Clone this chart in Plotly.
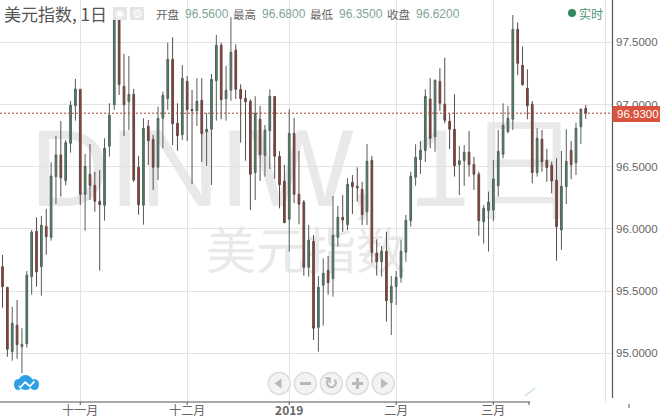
import plotly.graph_objects as go

# Daily candles, Oct 2018 - Mar 2019: high, top of body, bottom of body, low, colour (G up / R down)
candles = """
95.790 95.696 95.535 95.366 R
95.533 95.530 95.032 94.972 R
95.374 95.241 95.013 94.940 G
95.428 95.225 95.069 94.956 R
95.201 95.072 95.053 94.839 G
95.661 95.627 95.077 95.045 G
95.991 95.973 95.616 95.471 G
96.093 95.981 95.656 95.535 R
96.104 96.029 95.696 95.463 G
96.160 96.021 95.937 95.792 R
96.535 96.425 95.932 95.905 G
96.747 96.594 96.420 96.200 G
96.867 96.594 96.411 96.259 R
96.715 96.693 96.387 96.350 G
97.028 96.993 96.688 96.612 G
97.205 97.125 96.990 96.870 G
97.125 97.122 96.278 96.192 R
96.602 96.503 96.278 95.985 G
96.682 96.439 96.350 96.232 R
96.460 96.350 96.222 96.138 R
96.473 96.222 96.194 95.664 R
96.728 96.648 96.190 96.066 G
97.010 96.913 96.664 96.580 G
97.695 97.687 96.998 96.956 G
97.695 97.687 97.159 97.076 R
97.406 97.146 96.998 96.747 R
97.390 97.082 97.022 96.795 G
97.125 97.082 96.393 96.377 R
96.586 96.495 96.194 96.114 R
96.889 96.809 96.190 96.034 G
96.875 96.825 96.709 96.514 R
96.755 96.720 96.495 96.313 R
96.982 96.889 96.495 96.393 G
97.103 97.074 96.889 96.648 G
97.497 97.363 97.047 96.956 G
97.540 97.363 96.846 96.674 R
97.010 96.849 96.749 96.629 R
97.317 97.211 96.757 96.715 G
97.229 97.186 96.958 96.707 R
97.117 96.961 96.950 96.361 R
97.211 97.026 96.950 96.827 G
97.211 97.034 96.765 96.538 R
96.932 96.801 96.781 96.506 G
97.245 97.202 96.801 96.353 G
97.559 97.476 97.191 96.870 G
97.497 97.476 97.039 96.881 R
97.312 97.114 97.047 96.870 G
97.701 97.420 97.114 97.030 G
97.484 97.436 97.122 97.044 R
97.162 97.122 97.047 96.693 R
97.117 97.050 97.022 96.548 R
97.042 97.026 96.439 96.152 R
97.066 96.929 96.452 96.232 G
96.988 96.881 96.596 96.385 R
96.835 96.793 96.592 96.420 G
97.122 97.066 96.789 96.481 G
97.066 97.065 96.583 96.403 R
96.624 96.583 96.355 96.165 R
96.514 96.383 96.050 96.047 R
96.961 96.768 96.077 95.817 G
96.891 96.768 96.278 96.206 R
96.626 96.278 96.198 96.037 R
96.232 96.216 95.691 95.624 R
96.031 95.908 95.691 95.616 G
95.951 95.900 95.201 95.107 R
95.621 95.530 95.209 95.013 G
95.763 95.643 95.546 95.222 G
95.782 95.667 95.567 95.471 R
96.264 95.948 95.600 95.455 G
96.184 96.093 95.932 95.857 G
96.272 96.093 96.071 95.977 R
96.407 96.358 96.034 95.991 G
96.433 96.374 96.339 96.120 R
96.495 96.342 96.329 96.219 R
96.379 96.318 96.114 96.031 R
96.682 96.543 96.138 96.031 G
96.586 96.551 95.809 95.728 R
95.916 95.806 95.736 95.624 R
95.862 95.820 95.736 95.616 G
95.977 95.820 95.423 95.254 R
95.621 95.538 95.407 95.147 G
95.661 95.611 95.535 95.388 G
95.911 95.820 95.608 95.567 G
96.112 96.069 95.812 95.736 G
96.460 96.423 96.066 96.018 G
96.680 96.575 96.415 96.347 G
96.706 96.632 96.556 96.441 G
97.122 97.066 96.629 96.538 G
97.211 97.044 96.728 96.648 R
97.202 97.194 96.741 96.620 G
97.291 97.186 97.010 96.948 R
97.376 97.002 96.873 96.849 R
96.929 96.865 96.801 96.642 R
97.082 96.801 96.508 96.420 R
96.666 96.548 96.516 96.272 G
96.674 96.616 96.548 96.345 G
96.787 96.616 96.516 96.420 R
96.580 96.519 96.439 96.313 R
96.460 96.439 96.066 95.945 R
96.192 96.165 96.058 95.881 G
96.299 96.216 96.146 95.817 G
96.554 96.401 96.152 96.063 G
96.795 96.624 96.347 96.259 G
97.010 96.833 96.600 96.567 G
96.988 96.889 96.781 96.768 G
97.719 97.604 96.881 96.795 G
97.658 97.604 97.331 97.237 R
97.465 97.315 97.159 97.151 R
97.283 97.130 96.990 96.881 R
97.028 97.002 96.452 96.366 R
96.809 96.728 96.452 96.420 G
96.795 96.720 96.540 96.460 R
96.642 96.551 96.492 96.379 R
96.540 96.511 96.385 96.286 R
96.567 96.391 96.018 95.744 R
96.626 96.342 95.991 95.830 G
96.801 96.543 96.339 96.200 G
96.706 96.632 96.516 96.399 R
96.854 96.809 96.532 96.433 G
96.969 96.961 96.821 96.682 G
96.996 96.969 96.930 96.883 R
"""
rows = [r.split() for r in candles.strip().splitlines()]
highs = [float(r[0]) for r in rows]
lows = [float(r[3]) for r in rows]
opens = [float(r[2]) if r[4] == "G" else float(r[1]) for r in rows]
closes = [float(r[1]) if r[4] == "G" else float(r[2]) for r in rows]
days = list(range(len(rows)))

month_pos = [16, 38, 59, 81, 101, 124]
month_labels = ["十一月", "十二月", "<b>2019</b>", "二月", "三月", ""]
price_ticks = [95.0, 95.5, 96.0, 96.5, 97.0, 97.5]
last_price = 96.93
header = [("开盘", "96.5600", 156, 185), ("最高", "96.6800", 233, 262),
          ("最低", "96.3500", 310, 339), ("收盘", "96.6200", 387, 416)]

PW, PH = 612.0, 402.0
CJK = "Noto Sans CJK SC"
LAT = "Liberation Sans, Arial"
def px(x): return x / PW
def py(y): return 1 - y / PH

def pshape(kind, x0, y0, x1, y1, **kw):
    return dict(type=kind, xref="paper", yref="paper", x0=px(x0), x1=px(x1), y0=py(y0), y1=py(y1), **kw)

def ppath(points, **kw):
    d = "M " + " L ".join(f"{px(a):.5f} {py(b):.5f}" for a, b in points) + " Z"
    return dict(type="path", xref="paper", yref="paper", path=d, **kw)

def ptext(x, y, text, size, color, anchor="left", font=LAT):
    return dict(xref="paper", yref="paper", x=px(x), y=py(y), text=text, showarrow=False, xanchor=anchor,
                yanchor="middle", font=dict(size=size, color=color, family=font), borderpad=0, borderwidth=0)

shapes, ann = [], []

# watermark (beneath the candles)
shapes.append(pshape("rect", 4, 110, 606, 205, layer="below", line=dict(width=0), fillcolor="rgba(0,0,0,0)",
    label=dict(text="DINIW, 1日", font=dict(size=110, color="#e9e9e9", family=LAT), textposition="middle center")))
shapes.append(pshape("rect", 150, 226, 462, 284, layer="below", line=dict(width=0), fillcolor="rgba(0,0,0,0)",
    label=dict(text="美元指数", font=dict(size=50, color="#e9e9e9", family=CJK), textposition="middle center")))

# axis lines and stray marks
shapes.append(pshape("line", 0, 402, 530, 402, line=dict(color="#555555", width=1.2)))
shapes.append(pshape("line", 612.5, 0, 612.5, 398, line=dict(color="#555555", width=1.2)))
shapes.append(pshape("line", 529, 402, 529, 405, line=dict(color="#555555", width=1)))
shapes.append(pshape("line", 629, 404, 629, 408, line=dict(color="#555555", width=1)))
shapes.append(pshape("line", 525, 396, 535, 388, line=dict(color="#bcdcf2", width=1.2)))
for m in month_pos[:-1]:
    shapes.append(dict(type="line", xref="x", yref="paper", x0=m, x1=m, y0=py(402), y1=py(405),
                       line=dict(color="#555555", width=1)))

# last price line and tag
shapes.append(dict(type="line", xref="paper", yref="y", x0=0, x1=1, y0=last_price, y1=last_price,
                   line=dict(color="#a8432f", width=1, dash="2px,2px")))
shapes.append(pshape("rect", 612.5, 106, 660, 122, line=dict(width=0), fillcolor="#d9533f"))
ann.append(ptext(637.5, 114, "96.9300", 11.5, "#ffffff", "center"))

# header
ann.append(ptext(4, 14, "美元指数, 1日", 17, "#555555", font=CJK))
for lab, val, xl, xv in header:
    ann.append(ptext(xl, 14.5, lab, 11.5, "#666666", font=CJK))
    ann.append(ptext(xv, 14.5, val, 12, "#7fa596"))
for x0 in (113, 130):
    shapes.append(pshape("rect", x0, 7, x0 + 14, 20, line=dict(width=0), fillcolor="#e4e4e4"))
ann.append(ptext(120, 13.5, "◉", 11, "#ffffff", "center", "DejaVu Sans"))
ann.append(ptext(137, 13.5, "⚙", 12, "#ffffff", "center", "DejaVu Sans"))
shapes.append(pshape("circle", 568, 9, 576, 17, line=dict(width=0), fillcolor="#2f8a5f"))
ann.append(ptext(579, 13, "实时", 12, "#4f9277", font=CJK))

# navigation buttons
for cx in (279.3, 305.3, 331.3, 357.3, 383.3):
    shapes.append(pshape("circle", cx - 11, 372.5, cx + 11, 394.5, line=dict(color="#dddddd", width=1.5),
                         fillcolor="#f3f3f3"))
BTN = "#b9b9b9"
shapes.append(ppath([(274.5, 383.5), (281.5, 378.5), (281.5, 388.5)], fillcolor=BTN, line=dict(width=0)))
shapes.append(ppath([(388, 383.5), (381, 378.5), (381, 388.5)], fillcolor=BTN, line=dict(width=0)))
shapes.append(pshape("rect", 300, 382, 311, 385, line=dict(width=0), fillcolor=BTN))
shapes.append(pshape("rect", 352, 382, 363, 385, line=dict(width=0), fillcolor=BTN))
shapes.append(pshape("rect", 356, 378, 359, 389, line=dict(width=0), fillcolor=BTN))
ann.append(ptext(331.3, 382.5, "<b>↻</b>", 17, BTN, "center", "DejaVu Sans"))

# cloud logo
CLOUD = "#2e9fe4"
shapes.append(pshape("circle", 14, 379, 22, 390, line=dict(width=0), fillcolor=CLOUD))
shapes.append(pshape("circle", 30, 379, 39, 390, line=dict(width=0), fillcolor=CLOUD))
shapes.append(pshape("circle", 18, 375, 33, 390, line=dict(width=0), fillcolor=CLOUD))
shapes.append(ppath([(18, 385), (20, 386.5), (25, 381), (30, 385), (34, 380.5), (35, 382), (30, 387.5), (25, 383.5), (20, 389)],
                    fillcolor="#ffffff", line=dict(width=0)))

fig = go.Figure(go.Candlestick(
    x=days, open=opens, high=highs, low=lows, close=closes, whiskerwidth=0, hoverinfo="skip",
    increasing=dict(line=dict(color="#555f5a", width=1), fillcolor="#3f8f68"),
    decreasing=dict(line=dict(color="#5a4a48", width=1), fillcolor="#ad352b"),
))
fig.update_layout(
    width=660, height=420, margin=dict(l=0, r=48, t=0, b=18), showlegend=False, boxgap=0.5,
    paper_bgcolor="#ffffff", plot_bgcolor="#ffffff", shapes=shapes, annotations=ann,
    font=dict(family=LAT),
    xaxis=dict(range=[-0.514, 125.41], rangeslider=dict(visible=False), tickmode="array", tickvals=month_pos,
               ticktext=month_labels, showgrid=True, gridcolor="#e3e3e3", gridwidth=1, ticks="", showline=False,
               zeroline=False, tickfont=dict(size=12, color="#666666", family=CJK), ticklen=0),
    yaxis=dict(range=[94.608, 97.84], side="right", tickmode="array", tickvals=price_ticks, tickformat=".4f",
               showgrid=True, gridcolor="#e3e3e3", gridwidth=1, ticks="", showline=False, zeroline=False,
               ticklabelstandoff=3, tickfont=dict(size=11.5, color="#666666", family=LAT)),
)
fig.write_html("out.html", config={"displayModeBar": False},
               post_script="document.body.style.margin='0';document.documentElement.style.overflow='hidden';")
